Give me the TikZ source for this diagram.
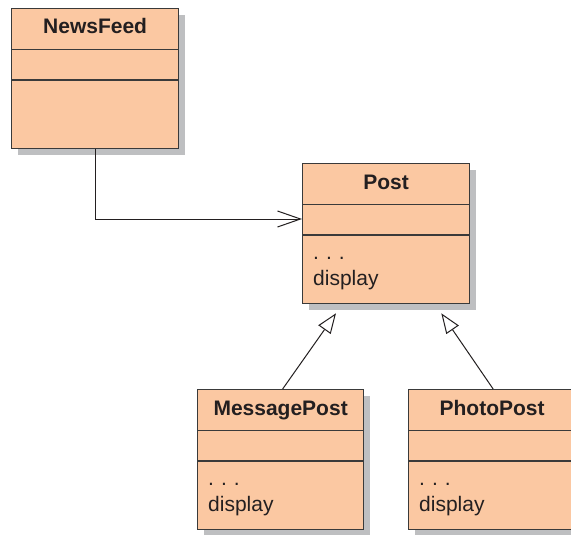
\documentclass[tikz,border=0pt]{standalone}
\usepackage{fontspec}
\setmainfont{Liberation Sans}
\usetikzlibrary{arrows.meta,calc}
\definecolor{peach}{HTML}{FBC8A2}
\definecolor{shade}{HTML}{BEBFC1}
\definecolor{ink}{HTML}{231F20}
\definecolor{edge}{HTML}{3A3A3A}
\tikzset{
  classbox/.style={draw=edge, line width=1.3pt, fill=peach, minimum height=140pt, anchor=north west, inner sep=0pt},
  shadowbox/.style={fill=shade, draw=none, minimum height=140pt, anchor=north west, inner sep=0pt},
  divider/.style={draw=edge, line width=1.2pt},
  titletext/.style={font=\fontsize{21}{25}\selectfont\bfseries, text=ink, anchor=base, inner sep=0pt},
  optext/.style={font=\fontsize{21}{25}\selectfont, text=ink, anchor=base west, inner sep=0pt},
  assoc/.style={draw=ink, line width=1pt, -{Straight Barb[length=23pt,width=16pt,line width=1pt]}},
  gen/.style={draw=ink, line width=1pt, -{Triangle[open,length=20pt,width=15pt,line width=1pt,fill=white]}}
}
\newcommand{\umlclass}[6]{%
  % #1 name, #2 x, #3 y, #4 width, #5 title, #6 ops flag
  \node[shadowbox, minimum width=#4pt] (#1s) at (#2+7,#3+7) {};
  \node[classbox, minimum width=#4pt] (#1) at (#2,#3) {};
  \draw[divider] ([yshift=-41.5pt]#1.north west) -- ([yshift=-41.5pt]#1.north east);
  \draw[divider] ([yshift=-72pt]#1.north west) -- ([yshift=-72pt]#1.north east);
  \node[titletext] (#1t) at ([yshift=-26pt]#1.north) {#5};
  \ifx#6y
    \node[optext] (#1d) at ([shift={(11pt,-96pt)}]#1.north west) {.\,\,.\,\,.};
    \node[optext] (#1o) at ([shift={(11pt,-122pt)}]#1.north west) {display};
  \fi
}
\begin{document}
\begin{tikzpicture}[x=1pt,y=-1pt]
\useasboundingbox (0,0) rectangle (571,535);
\fill[white] (0,0) rectangle (571,535);
\umlclass{nf}{11}{8}{167}{NewsFeed}{n}
\umlclass{post}{302}{163}{167}{Post}{y}
\umlclass{mp}{197}{389}{166}{MessagePost}{y}
\umlclass{pp}{408}{389}{167}{PhotoPost}{y}
\draw[assoc] (nf.south) |- ([yshift=-56pt]post.north west);
\coordinate (gl) at ([shift={(34pt,-9pt)}]post.south west);
\coordinate (gr) at ([shift={(-29pt,-9pt)}]post.south east);
\draw[gen] ([xshift=2pt]mp.north) -- (gl);
\draw[gen] ([xshift=1pt]pp.north) -- (gr);
\end{tikzpicture}
\end{document}
